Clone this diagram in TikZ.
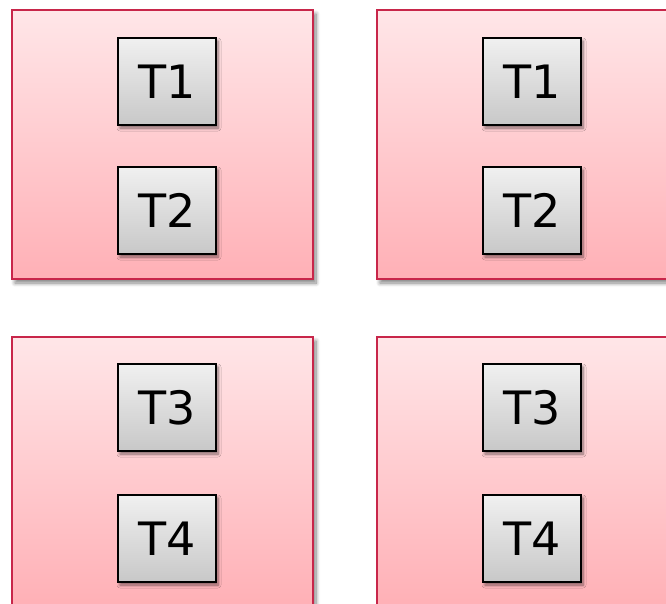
\documentclass[tikz,border=0pt]{standalone}
\usepackage{fontspec}
\setmainfont{DejaVu Sans}
\usetikzlibrary{shadows.blur}
\definecolor{crimson}{RGB}{200,38,74}
\definecolor{pinktop}{RGB}{255,230,232}
\definecolor{pinkbot}{RGB}{255,176,182}
\definecolor{greytop}{RGB}{240,240,240}
\definecolor{greybot}{RGB}{200,200,200}
\begin{document}
\begin{tikzpicture}[x=1pt,y=-1pt,
  pinkbox/.style={draw=crimson, line width=2pt, top color=pinktop, bottom color=pinkbot,
    minimum width=301pt, minimum height=269pt, anchor=north west, inner sep=0pt,
    blur shadow={shadow xshift=3pt, shadow yshift=-4pt, shadow blur radius=4pt, shadow blur steps=8, shadow opacity=50}},
  tbox/.style={draw=black, line width=2pt, top color=greytop, bottom color=greybot,
    minimum width=98pt, minimum height=87pt, anchor=north west, inner sep=0pt,
    font=\fontsize{46}{50}\selectfont,
    blur shadow={shadow xshift=2pt, shadow yshift=-3pt, shadow blur radius=3pt, shadow blur steps=6, shadow opacity=50}}]
\useasboundingbox (0,0) rectangle (666,603);
\begin{scope}
\clip (0,0) rectangle (666,603);
\node[pinkbox] (p1) at (11,9) {};
\node[pinkbox] (p2) at (376,9) {};
\node[pinkbox] (p3) at (11,336) {};
\node[pinkbox] (p4) at (376,336) {};
\node[tbox] (a1) at (117,37) {T1};
\node[tbox] (a2) at (117,166) {T2};
\node[tbox] (b1) at (482,37) {T1};
\node[tbox] (b2) at (482,166) {T2};
\node[tbox] (c3) at (117,363) {T3};
\node[tbox] (c4) at (117,494) {T4};
\node[tbox] (d3) at (482,363) {T3};
\node[tbox] (d4) at (482,494) {T4};
\end{scope}
\end{tikzpicture}
\end{document}
